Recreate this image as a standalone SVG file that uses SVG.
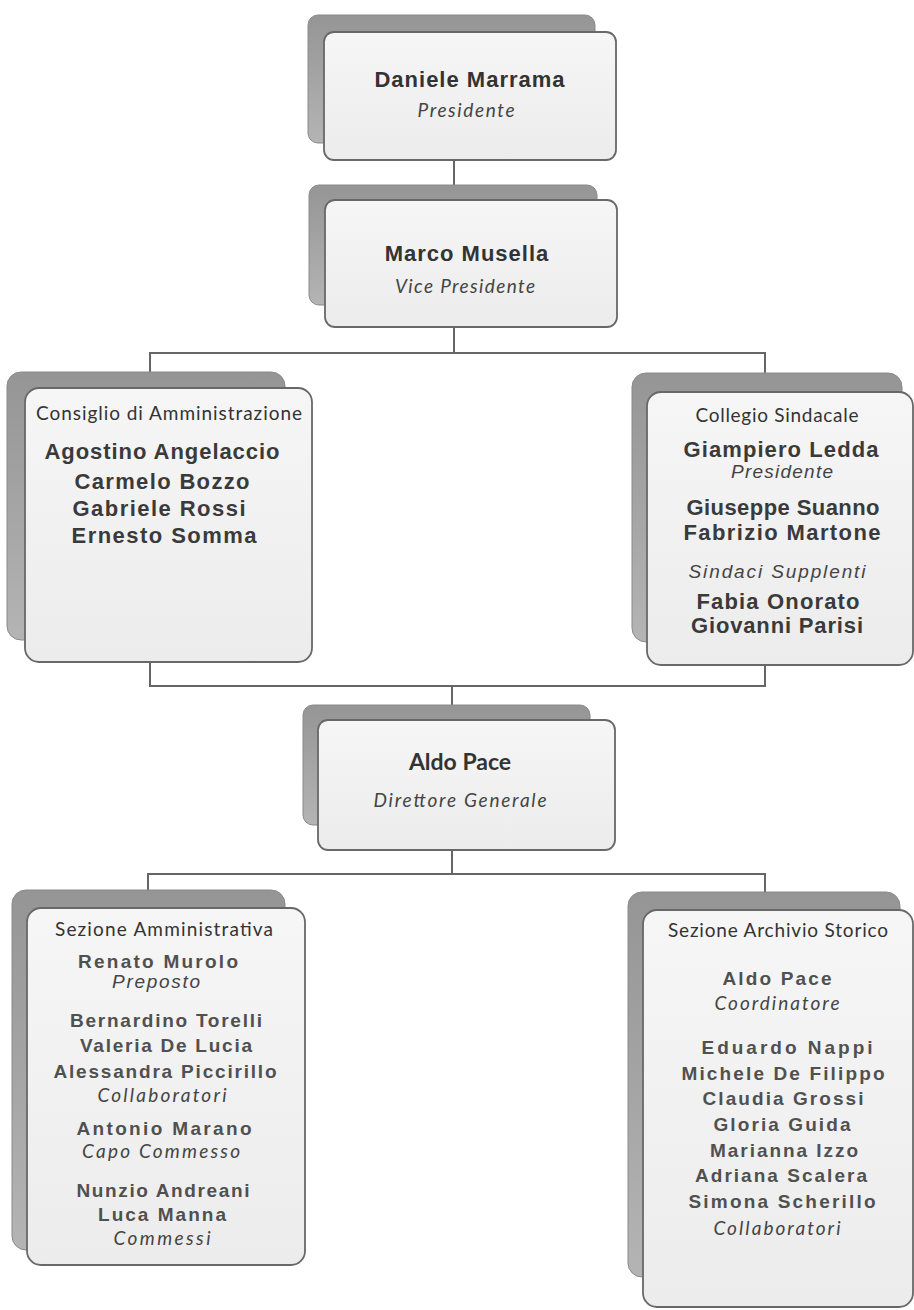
<svg xmlns="http://www.w3.org/2000/svg" width="914" height="1310" viewBox="0 0 914 1310">
<defs>
<linearGradient id="sh" x1="0" y1="0" x2="0" y2="1">
<stop offset="0" stop-color="#959595"/>
<stop offset="1" stop-color="#b4b4b4"/>
</linearGradient>
<linearGradient id="fr" x1="0" y1="0" x2="0" y2="1">
<stop offset="0" stop-color="#f6f6f6"/>
<stop offset="1" stop-color="#ececec"/>
</linearGradient>
</defs>
<style>
.sh{fill:url(#sh);stroke:#8a8a8a;stroke-width:1}
.fr{fill:url(#fr);stroke:#686868;stroke-width:1.8}
.ln{fill:none;stroke:#666;stroke-width:2}
.big{font-family:"Liberation Sans",Arial,sans-serif;font-weight:bold;font-size:22px;fill:#333;text-anchor:middle;letter-spacing:1px}
.mid{font-family:"Liberation Sans",Arial,sans-serif;font-weight:bold;font-size:22px;fill:#3a3a3a;text-anchor:middle}
.sm{font-family:"Liberation Sans",Arial,sans-serif;font-weight:bold;font-size:19px;fill:#505050;text-anchor:middle}
.ai{font-family:"Liberation Sans",Arial,sans-serif;font-style:italic;font-size:19px;fill:#444;text-anchor:middle}
.hd{font-family:Lato,"Open Sans",sans-serif;font-size:19px;fill:#333;text-anchor:middle}
.ci{font-family:Lato,"Open Sans",sans-serif;font-style:italic;font-size:19px;fill:#444;text-anchor:middle}
.cb{font-family:Lato,"Open Sans",sans-serif;font-weight:bold;font-size:23px;fill:#333;text-anchor:middle}
</style>

<g id="connectors">
<path class="ln" d="M454,160 V186"/>
<path class="ln" d="M454,327 V353 M150,373 V353 H765 V374"/>
<path class="ln" d="M150,662 V686 H765 V665 M452,686 V706"/>
<path class="ln" d="M452,850 V874 M148,891 V874 H765 V893"/>
</g>

<g id="n-presidente">
<rect class="sh" x="308" y="15" width="287" height="128" rx="10"/>
<rect class="fr" x="324" y="32" width="292" height="128" rx="10"/>
<text class="big" x="470" y="87">Daniele Marrama</text>
<text class="ci" x="466" y="117" font-size="21" textLength="97">Presidente</text>
</g>

<g id="n-vice">
<rect class="sh" x="309" y="185" width="288" height="120" rx="10"/>
<rect class="fr" x="325" y="200" width="292" height="127" rx="10"/>
<text class="big" x="467" y="261">Marco Musella</text>
<text class="ci" x="465" y="293" font-size="21" textLength="140">Vice Presidente</text>
</g>

<g id="n-consiglio">
<rect class="sh" x="7" y="372" width="278" height="268" rx="14"/>
<rect class="fr" x="25" y="388" width="287" height="274" rx="14"/>
<text class="hd" x="169" y="420" textLength="266">Consiglio di Amministrazione</text>
<text class="mid" x="162" y="459" textLength="235" font-size="23">Agostino Angelaccio</text>
<text class="mid" x="162" y="489" textLength="175">Carmelo Bozzo</text>
<text class="mid" x="159" y="516" textLength="173">Gabriele Rossi</text>
<text class="mid" x="164" y="543" textLength="185">Ernesto Somma</text>
</g>

<g id="n-collegio">
<rect class="sh" x="632" y="373" width="270" height="269" rx="14"/>
<rect class="fr" x="647" y="392" width="266" height="273" rx="14"/>
<text class="hd" x="777" y="422" textLength="163">Collegio Sindacale</text>
<text class="mid" x="781" y="457" textLength="195" font-size="23">Giampiero Ledda</text>
<text class="ai" x="782" y="478" textLength="102" font-size="18">Presidente</text>
<text class="mid" x="783" y="515" textLength="193">Giuseppe Suanno</text>
<text class="mid" x="782" y="540" textLength="197">Fabrizio Martone</text>
<text class="ai" x="777" y="578" textLength="177">Sindaci Supplenti</text>
<text class="mid" x="778" y="609" textLength="163">Fabia Onorato</text>
<text class="mid" x="777" y="633" textLength="172">Giovanni Parisi</text>
</g>

<g id="n-direttore">
<rect class="sh" x="303" y="705" width="287" height="120" rx="10"/>
<rect class="fr" x="318" y="720" width="297" height="130" rx="10"/>
<text class="cb" x="460" y="770">Aldo Pace</text>
<text class="ci" x="460" y="807" font-size="20" textLength="173">Direttore Generale</text>
</g>

<g id="n-amministrativa">
<rect class="sh" x="12" y="890" width="273" height="360" rx="14"/>
<rect class="fr" x="27" y="908" width="278" height="357" rx="14"/>
<text class="hd" x="164" y="936" font-size="20" textLength="218">Sezione Amministrativa</text>
<text class="sm" x="158" y="968" textLength="160">Renato Murolo</text>
<text class="ai" x="156" y="988" textLength="88">Preposto</text>
<text class="sm" x="166" y="1027" textLength="192">Bernardino Torelli</text>
<text class="sm" x="166" y="1052" textLength="172">Valeria De Lucia</text>
<text class="sm" x="165" y="1078" textLength="223">Alessandra Piccirillo</text>
<text class="ci" x="162" y="1102" font-size="22" textLength="129">Collaboratori</text>
<text class="sm" x="164" y="1135" textLength="175">Antonio Marano</text>
<text class="ci" x="161" y="1158" font-size="22" textLength="158">Capo Commesso</text>
<text class="sm" x="163" y="1197" textLength="173">Nunzio Andreani</text>
<text class="sm" x="162" y="1221" textLength="128">Luca Manna</text>
<text class="ci" x="162" y="1245" font-size="21" textLength="97">Commessi</text>
</g>

<g id="n-archivio">
<rect class="sh" x="628" y="892" width="272" height="385" rx="14"/>
<rect class="fr" x="643" y="910" width="270" height="397" rx="14"/>
<text class="hd" x="778" y="937" font-size="20" textLength="220">Sezione Archivio Storico</text>
<text class="sm" x="777" y="985" textLength="109">Aldo Pace</text>
<text class="ci" x="777" y="1010" font-size="22" textLength="125">Coordinatore</text>
<text class="sm" x="787" y="1054" textLength="171">Eduardo Nappi</text>
<text class="sm" x="783" y="1080" textLength="203">Michele De Filippo</text>
<text class="sm" x="783" y="1105" textLength="161">Claudia Grossi</text>
<text class="sm" x="782" y="1131" textLength="137">Gloria Guida</text>
<text class="sm" x="784" y="1157" textLength="148">Marianna Izzo</text>
<text class="sm" x="781" y="1182" textLength="172">Adriana Scalera</text>
<text class="sm" x="782" y="1208" textLength="187">Simona Scherillo</text>
<text class="ci" x="777" y="1235" font-size="22" textLength="127">Collaboratori</text>
</g>
</svg>
